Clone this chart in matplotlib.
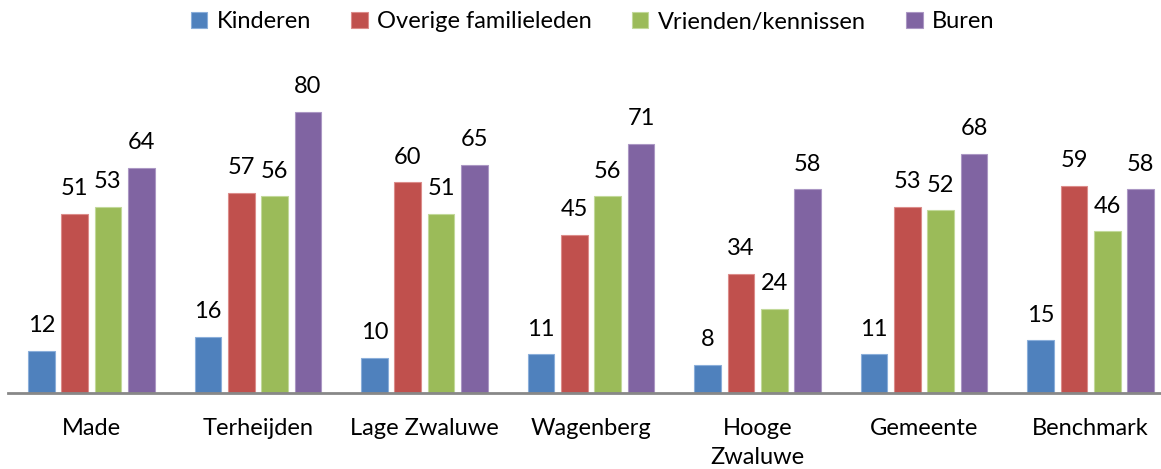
import matplotlib.pyplot as plt
import numpy as np

plt.rcParams['font.family'] = ['Lato', 'DejaVu Sans']

# data
categories = ["Made", "Terheijden", "Lage Zwaluwe", "Wagenberg", "Hooge\nZwaluwe", "Gemeente", "Benchmark"]
series = ["Kinderen", "Overige familieleden", "Vrienden/kennissen", "Buren"]
kinderen = [12, 16, 10, 11, 8, 11, 15]
overige = [51, 57, 60, 45, 34, 53, 59]
vrienden = [53, 56, 51, 56, 24, 52, 46]
buren = [64, 80, 65, 71, 58, 68, 58]

colors = ["#4F81BD", "#C0504D", "#9BBB59", "#8064A2"]
edges = ["#8AAEDA", "#DC8C8A", "#C2D99A", "#AB97C4"]

W, H = 1161, 469
fig = plt.figure(figsize=(W / 100, H / 100), dpi=100)
ax = fig.add_axes([8 / W, (H - 393) / H, (W - 8) / W, 353 / H])

x = np.arange(len(categories))
slot = 0.2
for i, vals in enumerate([kinderen, overige, vrienden, buren]):
    pos = x + (i - 1.5) * slot
    ax.bar(pos, vals, width=slot * 0.8, color=colors[i], edgecolor=edges[i],
           linewidth=0.8, label=series[i], zorder=2)
    for xp, v in zip(pos, vals):
        ax.annotate(str(v), (xp, v), xytext=(0, 13.5), textcoords="offset points",
                    ha="center", va="baseline", fontsize=17, color="#000000")

ax.set_xlim(-0.5, 6.5 - 13 / 166.6)
ax.set_ylim(0, 100.5)
ax.set_xticks(x)
ax.set_xticklabels(categories, fontsize=17, linespacing=1.45)
ax.tick_params(axis="x", length=0, pad=18)
ax.set_yticks([])
for s in ["top", "right", "left"]:
    ax.spines[s].set_visible(False)
ax.spines["bottom"].set_color("#888888")
ax.spines["bottom"].set_linewidth(2)
ax.spines["bottom"].set_zorder(3)

leg = ax.legend(loc="center", bbox_to_anchor=(0.507, (H - 22 - (H - 393)) / 353),
                ncol=4, frameon=False, fontsize=17, handlelength=0.7, handleheight=0.7,
                handletextpad=0.4, columnspacing=1.7)

fig.savefig("out.png", dpi=100)
